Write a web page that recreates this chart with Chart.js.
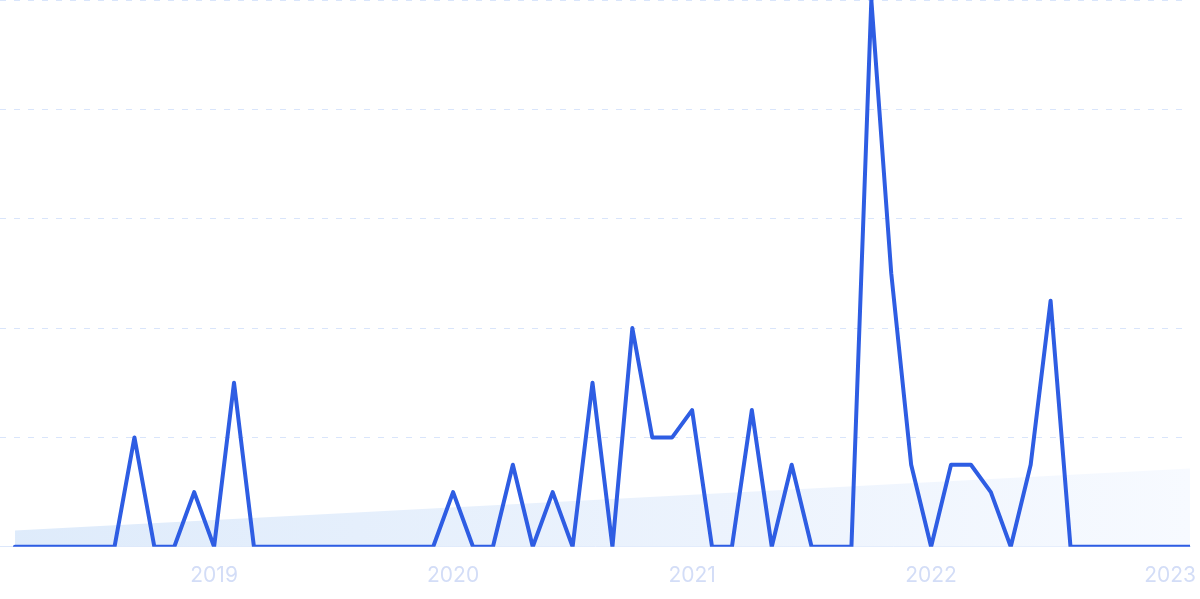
<!DOCTYPE html>
<html>
<head>
<meta charset="utf-8">
<script src="https://cdn.jsdelivr.net/npm/chart.js@4"></script>
<style>
  html, body { margin: 0; padding: 0; background: #fff; }
  #wrap { width: 1200px; height: 599px; position: relative; }
</style>
</head>
<body>
<div id="wrap"><canvas id="trendChart"></canvas></div>
<script>
// monthly, Mar 2018 .. Feb 2023
const months = [
  "2018-03","2018-04","2018-05","2018-06","2018-07","2018-08","2018-09","2018-10","2018-11","2018-12",
  "2019-01","2019-02","2019-03","2019-04","2019-05","2019-06","2019-07","2019-08","2019-09","2019-10","2019-11","2019-12",
  "2020-01","2020-02","2020-03","2020-04","2020-05","2020-06","2020-07","2020-08","2020-09","2020-10","2020-11","2020-12",
  "2021-01","2021-02","2021-03","2021-04","2021-05","2021-06","2021-07","2021-08","2021-09","2021-10","2021-11","2021-12",
  "2022-01","2022-02","2022-03","2022-04","2022-05","2022-06","2022-07","2022-08","2022-09","2022-10","2022-11","2022-12",
  "2023-01","2023-02"
];

const interest = [
  0, 0, 0, 0, 0, 0, 20, 0, 0, 10,
  0, 30, 0, 0, 0, 0, 0, 0, 0, 0, 0, 0,
  10, 0, 0, 15, 0, 10, 0, 30, 0, 40, 20, 20,
  25, 0, 0, 25, 0, 15, 0, 0, 0, 100, 50, 15,
  0, 15, 15, 10, 0, 15, 45, 0, 0, 0, 0, 0,
  0, 0
];

// trend line end points (first / last month)
const trendStart = 3;
const trendEnd = 14.3;

const yearTicks = ["2019-01", "2020-01", "2021-01", "2022-01", "2023-01"];

const linePoints = interest.map((v, i) => ({ x: i, y: v }));
const trendPoints = [
  { x: 0, y: trendStart },
  { x: months.length - 1, y: trendEnd }
];

function trendFill(context) {
  const { ctx, chartArea } = context.chart;
  if (!chartArea) return "rgba(224,236,251,1)";
  const g = ctx.createLinearGradient(chartArea.left, 0, chartArea.right, 0);
  g.addColorStop(0, "rgba(222,235,251,1)");
  g.addColorStop(0.6, "rgba(236,243,253,1)");
  g.addColorStop(1, "rgba(247,250,255,1)");
  return g;
}

new Chart(document.getElementById("trendChart"), {
  type: "line",
  data: {
    datasets: [
      {
        label: "Interest",
        data: linePoints,
        borderColor: "#2e5de3",
        borderWidth: 4,
        borderJoinStyle: "round",
        borderCapStyle: "round",
        pointRadius: 0,
        tension: 0,
        fill: false,
        order: 1
      },
      {
        label: "Trend",
        data: trendPoints,
        borderWidth: 0,
        borderColor: "rgba(0,0,0,0)",
        backgroundColor: trendFill,
        pointRadius: 0,
        fill: "origin",
        order: 2
      }
    ]
  },
  options: {
    responsive: true,
    maintainAspectRatio: false,
    animation: false,
    layout: { padding: { left: 0, right: 10, top: 0, bottom: -5 } },
    plugins: {
      legend: { display: false },
      tooltip: { enabled: false }
    },
    scales: {
      x: {
        type: "linear",
        min: -0.75,
        max: months.length - 1,
        grid: { display: false, drawTicks: false },
        border: { display: true, color: "#dce7fb", width: 1 },
        afterBuildTicks: (scale) => {
          scale.ticks = yearTicks.map(m => ({ value: months.indexOf(m) }));
        },
        afterFit: (scale) => {
          scale.paddingLeft = 0;
          scale.paddingRight = 0;
        },
        ticks: {
          autoSkip: false,
          maxRotation: 0,
          padding: 16,
          color: "#d3ddf7",
          font: { family: "Inter", size: 21 },
          callback: (value) => months[value] ? months[value].slice(0, 4) : ""
        }
      },
      y: {
        min: 0,
        max: 100,
        ticks: { display: false, stepSize: 20 },
        border: { display: false, dash: [6, 8] },
        grid: { color: "#d9e5fb", lineWidth: 1, drawTicks: false }
      }
    }
  }
});
</script>
</body>
</html>
